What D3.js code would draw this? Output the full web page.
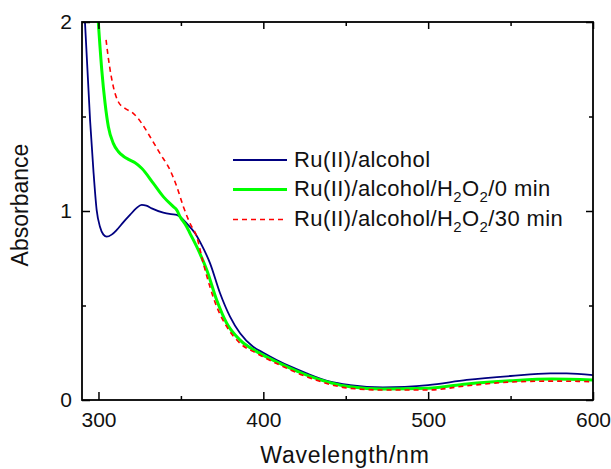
<!DOCTYPE html>
<html>
<head>
<meta charset="utf-8">
<script src="https://cdn.jsdelivr.net/npm/d3@7"></script>
<style>
  body { margin: 0; background: #fff; }
  svg text { font-family: "Liberation Sans", Arial, sans-serif; fill: #111; }
</style>
</head>
<body>
<svg width="611" height="469"></svg>
<script>
// Ru(II)/alcohol
const alcoholWl  = [291.5, 294.9, 296.9, 298.9, 300.9, 303, 305, 308, 311.1, 315, 319.1, 323, 326.2, 329, 332.3, 339.3, 344, 347.5, 350.5, 353.5, 358.6, 362, 367.7, 373.7, 379.8, 385.9, 393.8, 400, 408.1, 417, 426.3, 440.5, 452.6, 472.6, 500, 523.4, 550, 574, 584, 600];
const alcoholAbs = [2.05, 1.48, 1.217, 1.005, 0.917, 0.875, 0.864, 0.875, 0.90, 0.94, 0.979, 1.015, 1.032, 1.028, 1.014, 0.991, 0.983, 0.979, 0.962, 0.935, 0.882, 0.83, 0.723, 0.566, 0.441, 0.353, 0.282, 0.25, 0.212, 0.175, 0.141, 0.097, 0.079, 0.067, 0.079, 0.106, 0.127, 0.141, 0.141, 0.132];

// Ru(II)/alcohol/H2O2/0 min
const h2o2ZeroWl  = [299.5, 302, 304, 306, 309, 312, 315.1, 318.5, 322.2, 326.2, 333.3, 339.3, 345.4, 347.5, 349.5, 353.5, 355.5, 359.6, 365.7, 371.7, 377.8, 385.9, 396, 410, 426.3, 452.6, 472.6, 500, 523.4, 550, 575, 600];
const h2o2ZeroAbs = [2.05, 1.746, 1.57, 1.446, 1.358, 1.315, 1.29, 1.272, 1.255, 1.226, 1.146, 1.076, 1.023, 1.005, 0.97, 0.917, 0.882, 0.811, 0.688, 0.529, 0.406, 0.317, 0.256, 0.194, 0.132, 0.07, 0.058, 0.062, 0.085, 0.102, 0.111, 0.106];

// Ru(II)/alcohol/H2O2/30 min
const h2o2ThirtyWl  = [304.6, 306, 309, 312, 316.1, 321.1, 326.2, 331.3, 337.3, 343.4, 347.5, 351.5, 355.5, 359.6, 363.6, 371.7, 377.8, 385.9, 396, 410, 426.3, 452.6, 472.6, 500, 523.4, 550, 575, 600];
const h2o2ThirtyAbs = [1.905, 1.808, 1.658, 1.578, 1.543, 1.517, 1.464, 1.393, 1.305, 1.217, 1.129, 1.023, 0.935, 0.864, 0.723, 0.494, 0.388, 0.30, 0.247, 0.185, 0.123, 0.062, 0.053, 0.053, 0.075, 0.095, 0.100, 0.097];

const xTicks = [300, 400, 500, 600];
const xMinor = [350, 450, 550];
const yTicks = [0, 1, 2];
const yMinor = [0.5, 1.5];

const series = [
    {name: 'alcohol', wl: alcoholWl, abs: alcoholAbs, color: '#000080', width: 1.8, dash: null},
    {name: 'zero', wl: h2o2ZeroWl, abs: h2o2ZeroAbs, color: '#00ff00', width: 3, dash: null},
    {name: 'thirty', wl: h2o2ThirtyWl, abs: h2o2ThirtyAbs, color: '#ff0000', width: 1.6, dash: '5,4'}
];

const plotLeft = 82, plotRight = 593, plotTop = 22, plotBottom = 400;

const svg = d3.select('svg');

const x = d3.scaleLinear().domain([290, 600]).range([plotLeft, plotRight]);
const y = d3.scaleLinear().domain([0, 2]).range([plotBottom, plotTop]);

svg.append('clipPath').attr('id', 'plot')
    .append('rect')
    .attr('x', plotLeft).attr('y', plotTop)
    .attr('width', plotRight - plotLeft).attr('height', plotBottom - plotTop);

const line = d3.line()
    .x(d => x(d[0]))
    .y(d => y(d[1]))
    .curve(d3.curveMonotoneX);

const lines = svg.append('g').attr('clip-path', 'url(#plot)');
series.forEach(s => {
    const pts = s.wl.map((w, i) => [w, s.abs[i]]);
    lines.append('path')
        .datum(pts)
        .attr('fill', 'none')
        .attr('stroke', s.color)
        .attr('stroke-width', s.width)
        .attr('stroke-dasharray', s.dash)
        .attr('d', line);
});

// axes, ticks pointing inward
const styleAxis = g => {
    g.select('.domain').remove();
    g.selectAll('line').attr('stroke', '#000').attr('stroke-width', 1.5);
    g.selectAll('text').attr('font-size', 21).attr('fill', '#111');
};

svg.append('g')
    .attr('transform', `translate(0, ${plotBottom})`)
    .call(d3.axisBottom(x).tickValues(xTicks).tickSizeInner(-8).tickSizeOuter(0).tickPadding(12))
    .call(styleAxis);
svg.append('g')
    .attr('transform', `translate(0, ${plotBottom})`)
    .call(d3.axisBottom(x).tickValues(xMinor).tickSizeInner(-4).tickSizeOuter(0).tickFormat(''))
    .call(styleAxis);
svg.append('g')
    .attr('transform', `translate(0, ${plotTop})`)
    .call(d3.axisTop(x).tickValues(xTicks).tickSizeInner(-7).tickSizeOuter(0).tickFormat(''))
    .call(styleAxis);
svg.append('g')
    .attr('transform', `translate(0, ${plotTop})`)
    .call(d3.axisTop(x).tickValues(xMinor).tickSizeInner(-4).tickSizeOuter(0).tickFormat(''))
    .call(styleAxis);

svg.append('g')
    .attr('transform', `translate(${plotLeft}, 0)`)
    .call(d3.axisLeft(y).tickValues(yTicks).tickSizeInner(-8).tickSizeOuter(0).tickPadding(10).tickFormat(d3.format('d')))
    .call(styleAxis);
svg.append('g')
    .attr('transform', `translate(${plotLeft}, 0)`)
    .call(d3.axisLeft(y).tickValues(yMinor).tickSizeInner(-4).tickSizeOuter(0).tickFormat(''))
    .call(styleAxis);
svg.append('g')
    .attr('transform', `translate(${plotRight}, 0)`)
    .call(d3.axisRight(y).tickValues(yTicks).tickSizeInner(-7).tickSizeOuter(0).tickFormat(''))
    .call(styleAxis);
svg.append('g')
    .attr('transform', `translate(${plotRight}, 0)`)
    .call(d3.axisRight(y).tickValues(yMinor).tickSizeInner(-4).tickSizeOuter(0).tickFormat(''))
    .call(styleAxis);

svg.append('rect')
    .attr('x', plotLeft).attr('y', plotTop)
    .attr('width', plotRight - plotLeft).attr('height', plotBottom - plotTop)
    .attr('fill', 'none')
    .attr('stroke', '#000')
    .attr('stroke-width', 1.8);

// axis titles
svg.append('text')
    .attr('x', 345)
    .attr('y', 463)
    .attr('text-anchor', 'middle')
    .attr('font-size', 23)
    .attr('letter-spacing', 0.8)
    .text('Wavelength/nm');

svg.append('text')
    .attr('transform', `translate(28, 205) rotate(-90)`)
    .attr('text-anchor', 'middle')
    .attr('font-size', 23)
    .text('Absorbance');

// legend
const legendRows = [160, 189.5, 219.5];
const legend = svg.append('g');
series.forEach((s, i) => {
    const ly = legendRows[i];
    legend.append('line')
        .attr('x1', 233).attr('x2', 287)
        .attr('y1', ly).attr('y2', ly)
        .attr('stroke', s.color)
        .attr('stroke-width', s.width)
        .attr('stroke-dasharray', s.dash);
    const t = legend.append('text')
        .attr('x', 294)
        .attr('y', ly + 6.7)
        .attr('font-size', 22)
        .attr('letter-spacing', 0.4);
    if (i === 0) {
        t.text('Ru(II)/alcohol');
    } else {
        t.append('tspan').text('Ru(II)/alcohol/H');
        t.append('tspan').attr('font-size', 15).attr('dy', 6).text('2');
        t.append('tspan').attr('dy', -6).text('O');
        t.append('tspan').attr('font-size', 15).attr('dy', 6).text('2');
        t.append('tspan').attr('dy', -6).text(i === 1 ? '/0 min' : '/30 min');
    }
});
</script>
</body>
</html>
